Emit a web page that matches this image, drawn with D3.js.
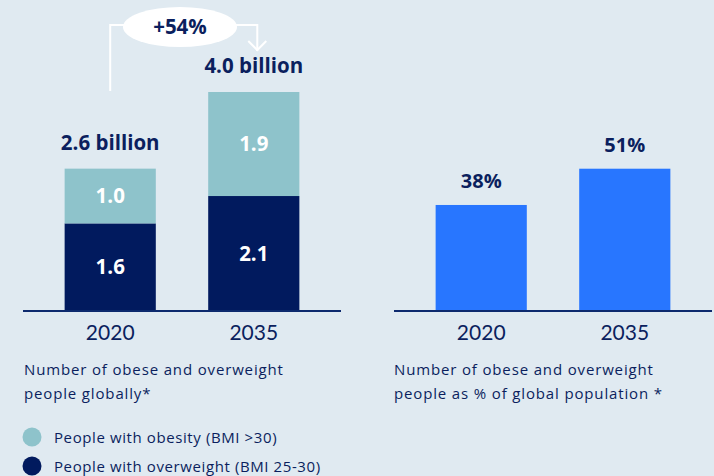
<!DOCTYPE html>
<html>
<head>
<meta charset="utf-8">
<script src="https://cdn.jsdelivr.net/npm/d3@7"></script>
<style>
  html, body { margin: 0; padding: 0; background: #e0eaf1; }
  svg { display: block; font-family: "Open Sans", Lato, sans-serif; }
  .bold { font-family: "Open Sans", Lato, sans-serif; font-weight: 700; }
  .note { font-family: "Open Sans", Lato, sans-serif; }
</style>
</head>
<body>
<svg id="chart" width="714" height="476"></svg>
<script>
// Years shown on both panels
const years = ["2020", "2035"];
// People (billions) by BMI group
const overweight = [1.6, 2.1];
const obesity = [1.0, 1.9];
const totalLabels = ["2.6 billion", "4.0 billion"];
// Share of global population (%)
const sharePct = [38, 51];
const changeLabel = "+54%";
const leftCaption = ["Number of obese and overweight", "people globally*"];
const rightCaption = ["Number of obese and overweight", "people as % of global population *"];
const legendLabels = ["People with obesity (BMI >30)", "People with overweight (BMI 25-30)"];

const C = {
  navy: "#011a5e",
  teal: "#8ec3cb",
  blue: "#2876ff",
  text: "#0b1f5e",
  axis: "#0d2a6e"
};

const svg = d3.select("#chart");
const baseY = 311;

// ---- Left panel: stacked bars ----
const xL = d3.scaleBand().domain(years).range([23, 341]).paddingInner(0.365).paddingOuter(0.29);
const yL = d3.scaleLinear().domain([0, 4]).range([baseY, 92]);

const stackData = years.map((y, i) => ({ year: y, overweight: overweight[i], obesity: obesity[i] }));
const series = d3.stack().keys(["overweight", "obesity"])(stackData);
const segColor = { overweight: C.navy, obesity: C.teal };

const gL = svg.append("g");
series.forEach(s => {
  gL.selectAll(null).data(s).join("rect")
    .attr("x", d => xL(d.data.year))
    .attr("width", xL.bandwidth())
    .attr("y", d => yL(d[1]))
    .attr("height", d => yL(d[0]) - yL(d[1]))
    .attr("fill", segColor[s.key]);
  gL.selectAll(null).data(s).join("text")
    .attr("class", "bold")
    .attr("x", d => xL(d.data.year) + xL.bandwidth() / 2)
    .attr("y", d => (yL(d[0]) + yL(d[1])) / 2 + 7)
    .attr("text-anchor", "middle")
    .attr("fill", "#fff")
    .attr("font-size", 20.5)
    .text(d => (d[1] - d[0]).toFixed(1));
});

// totals above each stack
gL.selectAll(null).data(stackData).join("text")
  .attr("class", "bold")
  .attr("x", d => xL(d.year) + xL.bandwidth() / 2)
  .attr("y", d => yL(d.overweight + d.obesity) - 19)
  .attr("text-anchor", "middle")
  .attr("fill", C.text)
  .attr("font-size", 20.5)
  .text((d, i) => totalLabels[i]);

// baseline
gL.append("line").attr("x1", 23).attr("x2", 341).attr("y1", baseY).attr("y2", baseY)
  .attr("stroke", C.axis).attr("stroke-width", 2);

// year axis
const axL = d3.axisBottom(xL).tickSize(0).tickPadding(14);
gL.append("g").attr("transform", `translate(0,${baseY})`).call(axL)
  .call(g => g.select(".domain").remove())
  .selectAll("text").attr("font-size", 21).attr("fill", C.text).attr("font-family", "Lato, sans-serif");

// growth bracket with arrow
const xa = xL(years[0]) + xL.bandwidth() / 2;
const xb = xL(years[1]) + xL.bandwidth() / 2;
const arrowTop = 25, ex = 180, ey = 27;
const bracket = svg.append("g").attr("fill", "none").attr("stroke", "#fff").attr("stroke-width", 2);
bracket.append("path").attr("d", `M${xa},91 V${arrowTop} H${ex}`);
bracket.append("path").attr("d", `M${ex},${arrowTop} H${xb + 3.5} V51`);
bracket.append("path").attr("d", `M${xb - 5.5},41 L${xb + 3.5},50 L${xb + 12.5},41`);
svg.append("ellipse").attr("cx", ex).attr("cy", ey).attr("rx", 57).attr("ry", 20).attr("fill", "#fff");
svg.append("text").attr("class", "bold").attr("x", ex).attr("y", ey + 7).attr("text-anchor", "middle")
  .attr("fill", C.text).attr("font-size", 20.5).text(changeLabel);

// ---- Right panel: share bars ----
const xR = d3.scaleBand().domain(years).range([394, 712]).paddingInner(0.365).paddingOuter(0.29);
const yR = d3.scaleLinear().domain([0, 100]).range([baseY, baseY - 279]);
const gR = svg.append("g");
gR.selectAll("rect").data(sharePct).join("rect")
  .attr("x", (d, i) => xR(years[i]))
  .attr("width", xR.bandwidth())
  .attr("y", d => yR(d))
  .attr("height", d => yR(0) - yR(d))
  .attr("fill", C.blue);
gR.selectAll(".val").data(sharePct).join("text")
  .attr("class", "bold")
  .attr("x", (d, i) => xR(years[i]) + xR.bandwidth() / 2)
  .attr("y", d => yR(d) - 17)
  .attr("text-anchor", "middle")
  .attr("fill", C.text).attr("font-size", 20)
  .text(d => d + "%");
gR.append("line").attr("x1", 394).attr("x2", 712).attr("y1", baseY).attr("y2", baseY)
  .attr("stroke", C.axis).attr("stroke-width", 2);
gR.append("g").attr("transform", `translate(0,${baseY})`).call(d3.axisBottom(xR).tickSize(0).tickPadding(14))
  .call(g => g.select(".domain").remove())
  .selectAll("text").attr("font-size", 21).attr("fill", C.text).attr("font-family", "Lato, sans-serif");

// ---- Captions ----
function caption(x, lines) {
  const t = svg.append("text").attr("class", "note").attr("x", x).attr("y", 375)
    .attr("fill", C.text).attr("font-size", 15).attr("letter-spacing", 0.85);
  lines.forEach((l, i) => t.append("tspan").attr("x", x).attr("dy", i ? 24 : 0).text(l));
}
caption(24, leftCaption);
caption(394, rightCaption);

// ---- Legend ----
const legend = svg.append("g");
legend.selectAll("circle").data(legendLabels).join("circle")
  .attr("cx", 32).attr("cy", (d, i) => 437 + i * 29).attr("r", 9.5)
  .attr("fill", (d, i) => i ? C.navy : C.teal);
legend.selectAll("text").data(legendLabels).join("text")
  .attr("class", "note")
  .attr("x", 54).attr("y", (d, i) => 443 + i * 29)
  .attr("fill", C.text).attr("font-size", 15).attr("letter-spacing", 0.6)
  .text(d => d);
</script>
</body>
</html>
